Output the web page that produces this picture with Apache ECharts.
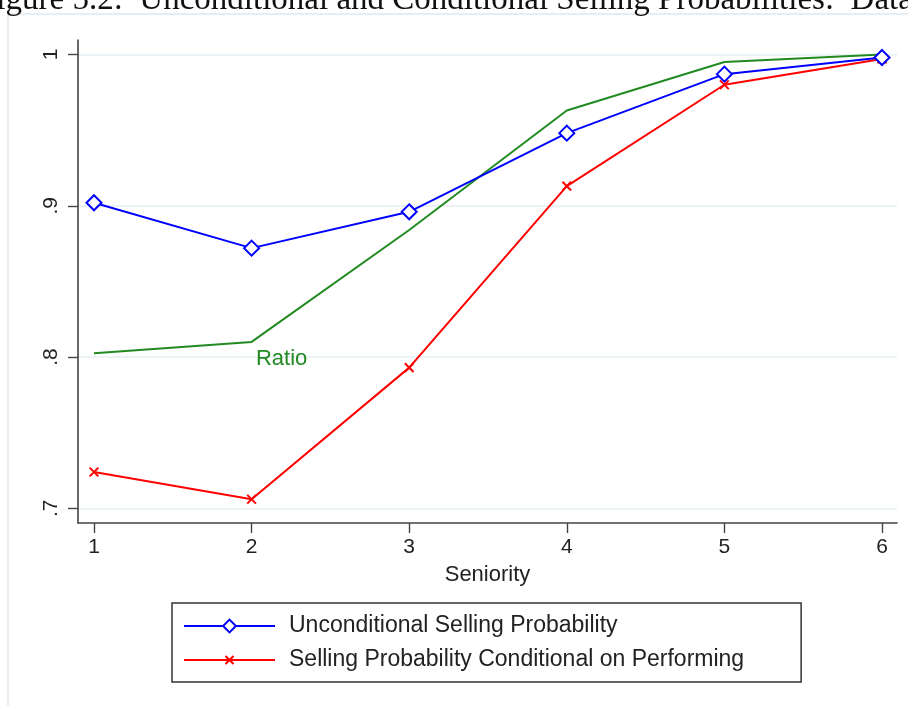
<!DOCTYPE html>
<html>
<head>
<meta charset="utf-8">
<script src="https://cdn.jsdelivr.net/npm/echarts@6/dist/echarts.min.js"></script>
<style>
html,body{margin:0;padding:0;background:#fff;}
#chart{width:908px;height:706px;}
</style>
</head>
<body>
<div id="chart"></div>
<script>
const seniority = [1, 2, 3, 4, 5, 6];
const unconditional = [0.902, 0.872, 0.896, 0.948, 0.987, 0.998];
const conditional = [0.724, 0.706, 0.793, 0.913, 0.980, 0.997];
const ratio = [0.8025, 0.810, 0.884, 0.963, 0.995, 1.000];
const yTicks = [0.7, 0.8, 0.9, 1.0];
const yTickLabels = ['.7', '.8', '.9', '1'];
const xTicks = [1, 2, 3, 4, 5, 6];
const caption = 'Figure 5.2:  Unconditional and Conditional Selling Probabilities:  Data';
const seriesNames = ['Unconditional Selling Probability', 'Selling Probability Conditional on Performing', 'Ratio'];

const pair = (xs, ys) => xs.map((x, i) => [x, ys[i]]);
const FONT = 'Liberation Sans';
const chart = echarts.init(document.getElementById('chart'), null, {renderer: 'canvas'});

chart.setOption({
  animation: false,
  backgroundColor: '#ffffff',
  textStyle: {fontFamily: FONT},
  grid: {left: 78, right: 11, top: 40, bottom: 183, containLabel: false},
  graphic: [
    {type: 'rect', shape: {x: 8, y: 14, width: 940, height: 740},
     style: {fill: 'none', stroke: '#e6edf3', lineWidth: 2}, z: 0},
    {type: 'text', x: -22, y: 17,
     style: {text: caption, font: '33px "Liberation Serif"', fill: '#111',
             textVerticalAlign: 'bottom', verticalAlign: 'bottom'}}
  ],
  xAxis: {
    type: 'value', min: 0.8985, max: 6.0952,
    name: 'Seniority', nameLocation: 'middle', nameGap: 41,
    nameTextStyle: {fontSize: 22, color: '#222', fontFamily: FONT},
    axisLine: {show: true, onZero: false, lineStyle: {color: '#444', width: 1.6}},
    axisTick: {show: true, length: 10, customValues: xTicks, lineStyle: {color: '#444', width: 1.4}},
    axisLabel: {show: true, customValues: xTicks, margin: 14, fontSize: 21, color: '#222', fontFamily: FONT},
    splitLine: {show: false}
  },
  yAxis: {
    type: 'value', min: 0.6903, max: 1.00958,
    axisLine: {show: true, onZero: false, lineStyle: {color: '#444', width: 1.6}},
    axisTick: {show: true, length: 10, customValues: yTicks, lineStyle: {color: '#444', width: 1.4}},
    axisLabel: {show: true, customValues: yTicks, rotate: 90, margin: 16, fontSize: 21, color: '#222', fontFamily: FONT,
      formatter: v => { const i = yTicks.findIndex(t => Math.abs(t - v) < 1e-6); return i >= 0 ? yTickLabels[i] : ''; }},
    splitLine: {show: true, lineStyle: {color: '#e6eff3', width: 1.5}}
  },
  legend: {
    data: [seriesNames[0], seriesNames[1]],
    orient: 'vertical', left: 172, top: 603,
    itemWidth: 91, itemHeight: 16, itemGap: 10,
    padding: [11, 57, 10, 11],
    borderColor: '#333', borderWidth: 1.5,
    textStyle: {fontSize: 23, color: '#222', fontFamily: FONT, lineHeight: 24, padding: [0, 0, 0, 9]}
  },
  series: [
    {
      name: seriesNames[2], type: 'line', data: pair(seniority, ratio),
      symbol: 'none', lineStyle: {color: '#218a21', width: 2}, itemStyle: {color: '#218a21'},
      label: {show: false}, z: 1,
      markPoint: {
        symbol: 'circle', symbolSize: 0,
        data: [{coord: [seniority[1], ratio[1]], value: 'Ratio'}],
        label: {show: true, formatter: 'Ratio', position: 'bottom', offset: [30, 1], fontSize: 22, color: '#218a21', fontFamily: FONT}
      }
    },
    {
      name: seriesNames[0], type: 'line', data: pair(seniority, unconditional),
      symbol: 'emptyDiamond', symbolSize: 15, showSymbol: true,
      lineStyle: {color: '#0000ff', width: 2},
      itemStyle: {color: '#0000ff', borderColor: '#0000ff', borderWidth: 2}, z: 3
    },
    {
      name: seriesNames[1], type: 'line', data: pair(seniority, conditional),
      symbol: 'path://M-3,-3M0,0L10,10M10,0L0,10M13,13', symbolSize: 14, showSymbol: true,
      lineStyle: {color: '#ff0000', width: 2},
      itemStyle: {color: '#ff0000', borderColor: '#ff0000', borderWidth: 2}, z: 2
    }
  ]
});
</script>
</body>
</html>
